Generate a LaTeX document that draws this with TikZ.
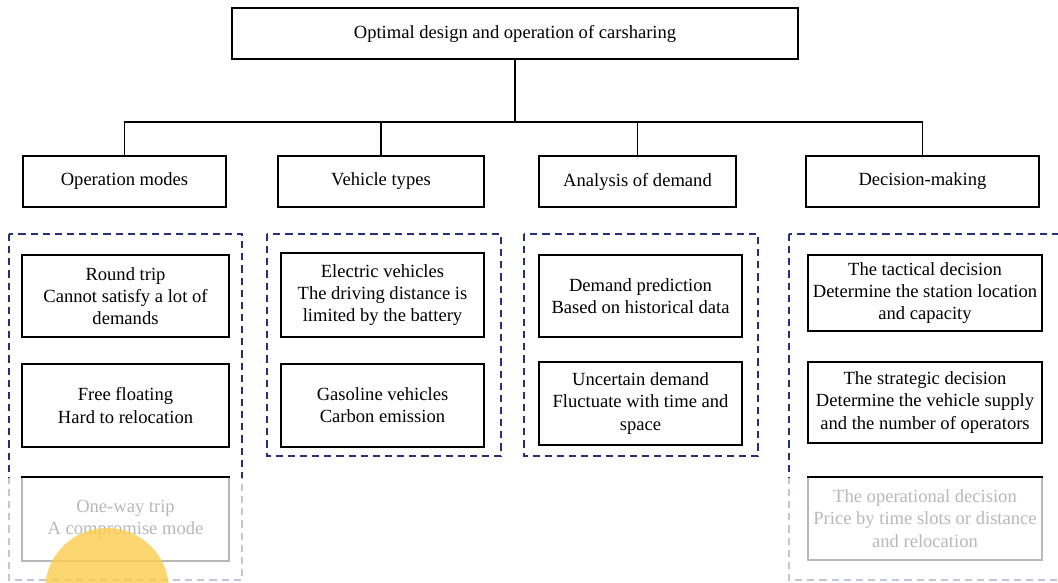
\documentclass[tikz,border=0pt]{standalone}
\usepackage{fontspec}
\setmainfont{Liberation Serif}
\usepackage{tikz}
\definecolor{groupblue}{RGB}{38,48,118}
\definecolor{sunyellow}{RGB}{252,206,78}
\tikzstyle{topbox} = [rectangle, draw, line width=0.8pt, minimum height=35.7pt, inner sep=2pt, font=\fontsize{13}{15.5}\selectfont]
\tikzstyle{leaf} = [rectangle, draw, line width=0.8pt, inner sep=2pt, align=center, font=\fontsize{13}{15.5}\selectfont]
\tikzstyle{group} = [draw=groupblue, line width=0.8pt, dash pattern=on 5pt off 3.5pt]
\tikzstyle{link} = [line width=0.8pt]

\begin{document}
\begin{tikzpicture}[x=0.7pt, y=-0.7pt]
  \useasboundingbox (0,0) rectangle (1058,582);

  % Root
  \node (root) [topbox, minimum width=396.2pt] at (515,33.5) {Optimal design and operation of carsharing};
  \coordinate (bus) at (515,122);

  % Second level
  \node (om) [topbox, minimum width=142.1pt] at (124.5,181.5) {Operation modes};
  \node (vt) [topbox, minimum width=144.2pt] at (381,181.5) {Vehicle types};
  \node (ad) [topbox, minimum width=137.9pt] at (637.5,181.5) {Analysis of demand};
  \node (dm) [topbox, minimum width=163.1pt] at (922.5,181.5) {Decision-making};

  % Tree lines
  \draw[link] (root.south) -- (bus);
  \foreach \n in {om,vt,ad,dm}
    \draw[link] (bus) -| (\n.north);

  % Groups (dashed)
  \draw[group] (9,234) rectangle (242,580);
  \draw[group] (267,234) rectangle (501,456);
  \draw[group] (524,234) rectangle (758,456);
  \draw[group] (789,234) rectangle (1064,580);

  % Operation modes
  \node (rt) [leaf, minimum width=144.9pt, minimum height=57.4pt] at (125.5,296) {Round trip\\Cannot satisfy a lot of\\demands};
  \node (ff) [leaf, minimum width=144.9pt, minimum height=58.1pt] at (125.5,405.5) {Free floating\\Hard to relocation};
  \node (ow) [leaf, minimum width=144.9pt, minimum height=58.8pt] at (125.5,519) {One-way trip\\A compromise mode};

  % Vehicle types
  \node (ev) [leaf, minimum width=142.1pt, minimum height=58.8pt] at (382.5,295) {Electric vehicles\\The driving distance is\\limited by the battery};
  \node (gv) [leaf, minimum width=142.1pt, minimum height=58.1pt] at (382.5,405.5) {Gasoline vehicles\\Carbon emission};

  % Analysis of demand
  \node (dp) [leaf, minimum width=142.1pt, minimum height=57.4pt] at (640.5,296) {Demand prediction\\Based on historical data};
  \node (ud) [leaf, minimum width=142.1pt, minimum height=58.1pt] at (640.5,403.5) {Uncertain demand\\Fluctuate with time and\\space};

  % Decision-making
  \node (td) [leaf, minimum width=163.8pt, minimum height=53.2pt] at (925,293) {The tactical decision\\Determine the station location\\and capacity};
  \node (sd) [leaf, minimum width=163.8pt, minimum height=56.7pt] at (925,402.5) {The strategic decision\\Determine the vehicle supply\\and the number of operators};
  \node (od) [leaf, minimum width=163.8pt, minimum height=58.1pt] at (925,518.5) {The operational decision\\Price by time slots or distance\\and relocation};

  % Fade at the bottom and the yellow disc
  \fill[white, opacity=0.72] (0,478) rectangle (1058,582);
  \fill[sunyellow, opacity=0.8] (107,590) circle (62);

\end{tikzpicture}
\end{document}
